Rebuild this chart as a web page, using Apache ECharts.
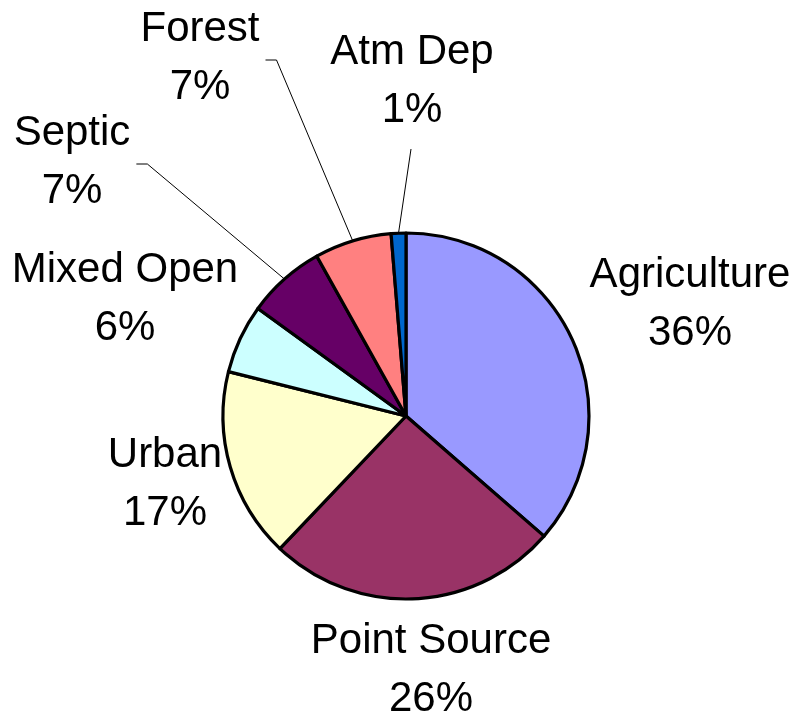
<!DOCTYPE html>
<html>
<head>
<meta charset="utf-8">
<script src="https://cdn.jsdelivr.net/npm/echarts@6/dist/echarts.min.js"></script>
<style>
  html, body { margin: 0; padding: 0; background: #fff; }
  #main { width: 799px; height: 717px; }
</style>
</head>
<body>
<div id="main"></div>
<script>
var chartDom = document.getElementById('main');
var myChart = echarts.init(chartDom);
var option;

// load share by source, clockwise from 12 o'clock
var sources = ['Agriculture', 'Point Source', 'Urban', 'Mixed Open', 'Septic', 'Forest', 'Atm Dep'];
var shares = [36.4, 25.7, 16.8, 6.1, 6.9, 6.8, 1.3];
var sliceColors = ['#9999FF', '#993366', '#FFFFCC', '#CCFFFF', '#660066', '#FF8080', '#0066CC'];

// label block centres and which side the leader line meets them
var labelSpots = [[690, 304], [431, 670], [165, 484], [125, 299], [72, 162], [200, 58], [412, 81]];
var leaderSide = [null, null, null, null, 'right', 'right', 'below'];

var data = sources.map(function (name, i) {
  return {
    name: name,
    value: shares[i],
    itemStyle: { color: sliceColors[i] },
    labelLine: { show: !!leaderSide[i] }
  };
});

option = {
  backgroundColor: '#fff',
  animation: false,
  series: [
    {
      type: 'pie',
      center: [406, 416],
      radius: 183,
      startAngle: 90,
      clockwise: true,
      avoidLabelOverlap: false,
      percentPrecision: 0,
      silent: true,
      itemStyle: {
        borderColor: '#000',
        borderWidth: 3.2
      },
      label: {
        show: true,
        position: 'outside',
        formatter: '{b}\n{d}%',
        fontFamily: 'Liberation Sans, Arial, sans-serif',
        fontSize: 42,
        lineHeight: 58,
        color: '#000',
        align: 'center'
      },
      labelLine: {
        show: false,
        length: 10,
        length2: 10,
        lineStyle: { color: '#000', width: 1 }
      },
      labelLayout: function (params) {
        var i = params.dataIndex;
        var spot = labelSpots[i];
        var out = { x: spot[0], y: spot[1], align: 'center', verticalAlign: 'middle' };
        var side = leaderSide[i];
        if (side && params.labelLinePoints) {
          var w = params.labelRect.width;
          var h = params.labelRect.height;
          var start = params.labelLinePoints[0];
          if (side === 'right') {
            var ex = spot[0] + w / 2 + 6;
            var ey = spot[1] + 2;
            out.labelLinePoints = [start, [ex + 11, ey], [ex, ey]];
          } else {
            var by = spot[1] + h / 2 + 10;
            out.labelLinePoints = [start, [spot[0] - 1, by], [spot[0] - 1, by]];
          }
        }
        return out;
      },
      emphasis: { disabled: true },
      data: data
    }
  ]
};

option && myChart.setOption(option);
</script>
</body>
</html>
